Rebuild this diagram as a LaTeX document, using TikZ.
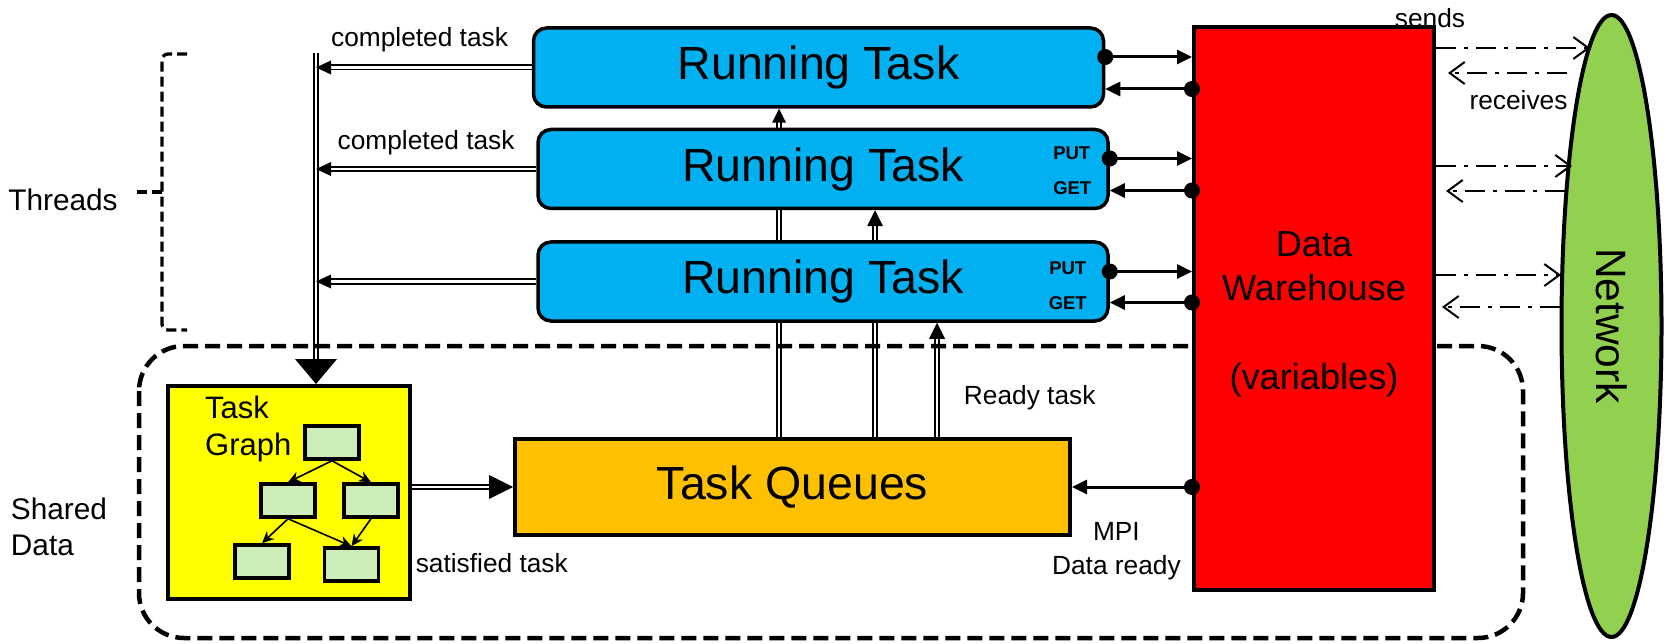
\documentclass[tikz,border=0pt]{standalone}
\usepackage{fontspec}
\setmainfont{Liberation Sans}
\usetikzlibrary{arrows.meta,positioning,calc,shapes.geometric,backgrounds,decorations.markings}
\definecolor{runblue}{RGB}{0,176,240}
\definecolor{queueorange}{RGB}{255,192,0}
\definecolor{graphyellow}{RGB}{255,255,0}
\definecolor{graphgreen}{RGB}{204,236,184}
\definecolor{netgreen}{RGB}{146,208,80}
\definecolor{whred}{RGB}{255,0,0}

\begin{document}
\begin{tikzpicture}[
        x=1pt, y=-1pt,
        runbox/.style={rectangle, rounded corners=13pt, draw, line width=3.5pt, fill=runblue,
            minimum width=570pt, minimum height=79pt, inner sep=0pt,
            font=\fontsize{46.5}{50}\selectfont},
        bigbox/.style={rectangle, draw, line width=4pt, fill=#1, inner sep=0pt},
        gbox/.style={rectangle, draw, line width=3.5pt, fill=graphgreen,
            minimum width=54pt, minimum height=33pt, inner sep=0pt},
        rwtag/.style={font=\fontsize{18.5}{20}\selectfont\bfseries, inner sep=0pt},
        lbl/.style={font=\fontsize{26.3}{34}\selectfont, inner sep=0pt, align=center},
        sidelbl/.style={font=\fontsize{29.8}{36}\selectfont, inner sep=0pt, align=left},
        garrow/.style={-{Stealth[length=12pt, width=11pt]}, line width=1.6pt},
        link/.style={line width=3pt, {Circle[length=16pt]}-{Triangle[length=15pt, width=14pt]},
            shorten <=-8pt},
        netlink/.style={line width=2pt, -{Straight Barb[length=15pt, width=22pt, line width=2pt]},
            dash pattern=on 20pt off 8pt on 4pt off 8pt},
        dbl/.style 2 args={double, line width=1.8pt, double distance=2.4pt, shorten >=#1pt*0.6,
            postaction={decorate, decoration={markings,
                mark=at position 1 with {\fill[shorten >=0pt] (0pt,0pt) -- (-#1pt,{#2pt/2}) -- (-#1pt,{-#2pt/2}) -- cycle;}}}},
        sharedframe/.style={line width=4.5pt, dash pattern=on 15pt off 7pt, rounded corners=45pt},
        brkt/.style={line width=3.3pt, dash pattern=on 10pt off 5pt, rounded corners=6pt}
    ]
    \useasboundingbox (0,0) rectangle (1675,644);

    % running tasks
    \node[runbox] (rt1) at (818.5,67.5) {Running Task};
    \node[runbox, below=19pt of rt1, xshift=4.5pt] (rt2) {Running Task};
    \node[runbox, below=30pt of rt2] (rt3) {Running Task};
    \node[rwtag] (put2) at ($(rt2.east)+(-38,-15.5)$) {PUT};
    \node[rwtag] (get2) at ($(rt2.east)+(-37.5,19.5)$) {GET};
    \node[rwtag] (put3) at ($(rt3.east)+(-42,-13)$) {PUT};
    \node[rwtag] (get3) at ($(rt3.east)+(-42,22)$) {GET};

    % warehouse and network
    \node[bigbox=whred, minimum width=240pt, minimum height=563pt] (wh) at (1314,308.5) {};
    \node[align=center, inner sep=0pt, font=\fontsize{36.2}{44.5}\selectfont]
        (whtext) at ([yshift=-6pt]wh.center) {Data\\Warehouse\\[44.5pt](variables)};
    \node[ellipse, draw, line width=4pt, fill=netgreen, minimum width=100pt, minimum height=622pt,
        inner sep=0pt] (net) at (1611.5,326) {};
    \node[rotate=-90, inner sep=0pt, font=\fontsize{42.5}{46}\selectfont] (nettext) at (net.center) {Network};
    \coordinate (send1) at (1590,48);
    \coordinate (recv1) at (1567,73);
    \coordinate (send2) at (1572,166);
    \coordinate (recv2) at (1565,191);
    \coordinate (send3) at (1561,275);
    \coordinate (recv3) at (1560,307);

    % shared data
    \node[bigbox=queueorange, minimum width=555pt, minimum height=96pt,
        font=\fontsize{46.5}{50}\selectfont] (tq) at (792.5,487) {Task Queues};
    \node[bigbox=graphyellow, minimum width=242pt, minimum height=213pt] (tg) at (289,492.5) {};
    \node[anchor=north west, align=left, inner sep=0pt, font=\fontsize{31}{37}\selectfont]
        (tglabel) at ([xshift=39pt, yshift=-12pt]tg.north west) {Task\\Graph};
    \node[gbox] (g1) at (332,442.5) {};
    \node[gbox] (g2) at (288,500.5) {};
    \node[gbox] (g3) at (371,500.5) {};
    \node[gbox] (g4) at (262,561.5) {};
    \node[gbox] (g5) at (351.5,564.5) {};
    \draw[garrow] (g1.south) -- (g2.north);
    \draw[garrow] (g1.south) -- (g3.north);
    \draw[garrow] (g2.south) -- (g4.north);
    \draw[garrow] (g2.south) -- (g5.north);
    \draw[garrow] (g3.south) -- (g5.north);

    % side labels
    \node[sidelbl] (threads) at (63,200) {Threads};
    \node[sidelbl] (shared) at (59,527) {Shared\\Data};
    \draw[brkt] (187,54) -- (162,54) -- (162,330) -- (187,330);
    \draw[brkt] (137,192) -- (162,192);

    \coordinate (ctop) at (316,53);

    \begin{scope}[on background layer]
        \draw[dbl={25}{42}] (ctop) -- (ctop |- tg.north);
        \draw[dbl={15}{14}] (rt1.west) -- (rt1.west -| ctop)
            node[lbl, pos=0.52, yshift=28pt] {completed task};
        \draw[dbl={15}{14}] (rt2.west) -- (rt2.west -| ctop)
            node[lbl, pos=0.5, yshift=26pt] {completed task};
        \draw[dbl={15}{14}] (rt3.west) -- (rt3.west -| ctop);
        \draw[dbl={14}{14}] ([xshift=-13.5pt]tq.north) -- ([xshift=-13.5pt]tq.north |- rt1.south);
        \draw[dbl={16}{16}] ([xshift=82.5pt]tq.north) -- ([xshift=82.5pt]tq.north |- rt2.south);
        \draw[dbl={16}{16}] ([xshift=144.5pt]tq.north) -- ([xshift=144.5pt]tq.north |- rt3.south)
            node[lbl, pos=0.34, right=26pt] {Ready task};
        \draw[dbl={24}{24}] (tg.east |- tq.west) -- (tq.west)
            node[lbl, pos=0.79, yshift=-76pt] {satisfied task};
        \draw[sharedframe] (139,346) rectangle (1523,638);
    \end{scope}

    % put / get
    \draw[link] ([yshift=10.5pt]rt1.east) -- ([yshift=10.5pt]rt1.east -| wh.west);
    \draw[link] ([yshift=-21.5pt]rt1.east -| wh.west) -- ([yshift=-21.5pt]rt1.east);
    \draw[link] ([yshift=10.5pt]rt2.east) -- ([yshift=10.5pt]rt2.east -| wh.west);
    \draw[link] ([yshift=-21.5pt]rt2.east -| wh.west) -- ([yshift=-21.5pt]rt2.east);
    \draw[link] ([yshift=10pt]rt3.east) -- ([yshift=10pt]rt3.east -| wh.west);
    \draw[link] ([yshift=-21pt]rt3.east -| wh.west) -- ([yshift=-21pt]rt3.east);
    \draw[link] (wh.west |- tq.east) -- (tq.east)
        node[lbl, pos=0.63, yshift=-64.5pt] {MPI\\Data ready};

    % sends / receives
    \draw[netlink] (send1 -| wh.east) -- (send1)
        node[lbl, at start, xshift=-6pt, yshift=29.5pt] {sends};
    \draw[netlink, shorten >=12pt] (recv1) -- (recv1 -| wh.east)
        node[lbl, pos=0.37, yshift=-27pt] {receives};
    \draw[netlink] (send2 -| wh.east) -- (send2);
    \draw[netlink, shorten >=10pt] (recv2) -- (recv2 -| wh.east);
    \draw[netlink] (send3 -| wh.east) -- (send3);
    \draw[netlink, shorten >=6pt] (recv3) -- (recv3 -| wh.east);
\end{tikzpicture}
\end{document}
